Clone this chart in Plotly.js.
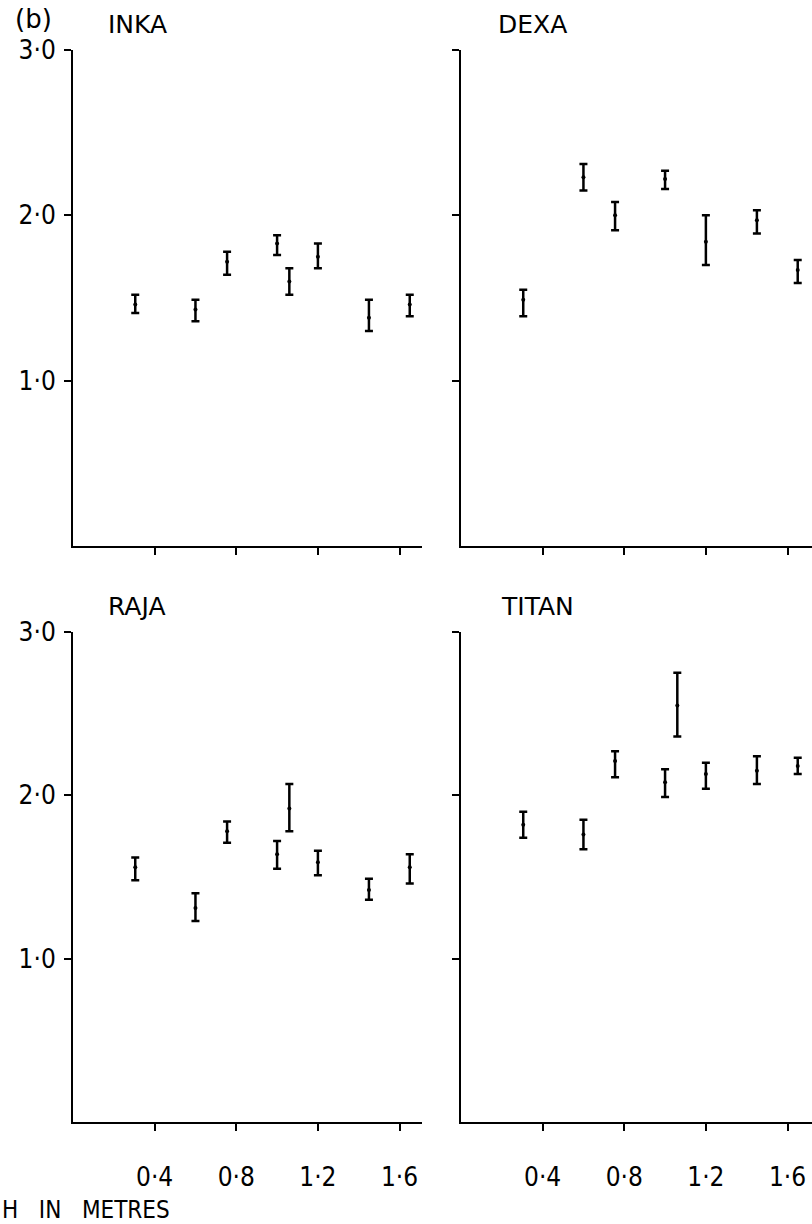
<!DOCTYPE html>
<html>
<head>
<meta charset="utf-8">
<script src="https://cdn.plot.ly/plotly-3.0.1.min.js"></script>
<style>
  html, body { margin: 0; padding: 0; background: #fff; }
  #chart { width: 812px; height: 1224px; }
</style>
</head>
<body>
<div id="chart"></div>
<script>
// Sampling depths (m)
const depth = [0.305, 0.60, 0.755, 1.00, 1.06, 1.20, 1.45, 1.65];

// INKA
const inkaMean = [1.46, 1.43, 1.72, 1.83, 1.60, 1.75, 1.38, 1.46];
const inkaHigh = [1.52, 1.49, 1.78, 1.88, 1.68, 1.83, 1.49, 1.52];
const inkaLow  = [1.41, 1.36, 1.64, 1.76, 1.52, 1.68, 1.30, 1.39];

// DEXA (no value at 1.06 m)
const dexaMean = [1.49, 2.23, 2.00, 2.22, null, 1.84, 1.97, 1.67];
const dexaHigh = [1.55, 2.31, 2.08, 2.27, null, 2.00, 2.03, 1.73];
const dexaLow  = [1.39, 2.15, 1.91, 2.16, null, 1.70, 1.89, 1.59];

// RAJA
const rajaMean = [1.56, 1.31, 1.78, 1.64, 1.92, 1.59, 1.42, 1.56];
const rajaHigh = [1.62, 1.40, 1.84, 1.72, 2.07, 1.66, 1.49, 1.64];
const rajaLow  = [1.48, 1.23, 1.71, 1.55, 1.78, 1.51, 1.36, 1.46];

// TITAN
const titanMean = [1.82, 1.76, 2.21, 2.08, 2.55, 2.13, 2.15, 2.18];
const titanHigh = [1.90, 1.85, 2.27, 2.16, 2.75, 2.20, 2.24, 2.23];
const titanLow  = [1.74, 1.67, 2.11, 1.99, 2.36, 2.04, 2.07, 2.13];

const xTickVals = [0.4, 0.8, 1.2, 1.6];
const xTickText = ['0·4', '0·8', '1·2', '1·6'];
const yTickVals = [1, 2, 3];
const yTickText = ['1·0', '2·0', '3·0'];

const FONT = 'DejaVu Sans Condensed, DejaVu Sans, sans-serif';
const TITLEFONT = 'DejaVu Sans, sans-serif';

function diff(a, b) { return a.map((v, i) => (v === null || b[i] === null) ? null : +(v - b[i]).toFixed(3)); }

function trace(mean, hi, lo, xa, ya) {
  return {
    type: 'scatter', mode: 'markers',
    x: depth, y: mean, xaxis: xa, yaxis: ya,
    marker: { color: '#000', size: 4 },
    error_y: {
      type: 'data', symmetric: false,
      array: diff(hi, mean), arrayminus: diff(mean, lo),
      color: '#000', thickness: 2.5, width: 4
    },
    showlegend: false, hoverinfo: 'skip'
  };
}

const data = [
  trace(inkaMean, inkaHigh, inkaLow, 'x', 'y'),
  trace(dexaMean, dexaHigh, dexaLow, 'x2', 'y2'),
  trace(rajaMean, rajaHigh, rajaLow, 'x3', 'y3'),
  trace(titanMean, titanHigh, titanLow, 'x4', 'y4')
];

const W = 812, H = 1224;
const px = v => v / W;
const py = v => 1 - v / H;

function xax(dom, rng, labels, anchor) {
  return {
    domain: dom, range: rng, anchor: anchor,
    showline: true, linecolor: '#000', linewidth: 2,
    showgrid: false, zeroline: false,
    ticks: 'outside', ticklen: 7, tickwidth: 2, tickcolor: '#000',
    tickmode: 'array', tickvals: xTickVals, ticktext: xTickText,
    showticklabels: labels, ticklabelstandoff: 24,
    tickfont: { family: FONT, size: 26, color: '#000' },
    fixedrange: true
  };
}
function yax(dom, labels, anchor) {
  return {
    domain: dom, range: [0, 3], anchor: anchor,
    showline: true, linecolor: '#000', linewidth: 2,
    showgrid: false, zeroline: false,
    ticks: 'outside', ticklen: 7, tickwidth: 2, tickcolor: '#000',
    tickmode: 'array', tickvals: yTickVals, ticktext: yTickText,
    showticklabels: labels, ticklabelstandoff: 3,
    tickfont: { family: FONT, size: 26, color: '#000' },
    fixedrange: true
  };
}

const topDom = [py(546), py(50)];
const botDom = [py(1122), py(632)];
const leftDom = [px(73), px(422)];
const rightDom = [px(461), 1];

const layout = {
  width: W, height: H,
  margin: { l: 0, r: 0, t: 0, b: 0 },
  paper_bgcolor: '#fff', plot_bgcolor: 'rgba(0,0,0,0)',
  showlegend: false,
  xaxis:  xax(leftDom,  [0, 1.71], false, 'y'),
  yaxis:  yax(topDom, true, 'x'),
  xaxis2: xax(rightDom, [0, 1.72], false, 'y2'),
  yaxis2: yax(topDom, false, 'x2'),
  xaxis3: xax(leftDom,  [0, 1.71], true, 'y3'),
  yaxis3: yax(botDom, true, 'x3'),
  xaxis4: xax(rightDom, [0, 1.72], true, 'y4'),
  yaxis4: yax(botDom, false, 'x4'),
  annotations: [
    { text: '(b)', xref: 'paper', yref: 'paper', x: px(13), y: py(19), xanchor: 'left', yanchor: 'middle',
      showarrow: false, font: { family: TITLEFONT, size: 26, color: '#000' } },
    { text: 'INKA', xref: 'paper', yref: 'paper', x: px(106), y: py(24), xanchor: 'left', yanchor: 'middle',
      showarrow: false, font: { family: TITLEFONT, size: 25, color: '#000' } },
    { text: 'DEXA', xref: 'paper', yref: 'paper', x: px(496), y: py(24), xanchor: 'left', yanchor: 'middle',
      showarrow: false, font: { family: TITLEFONT, size: 25, color: '#000' } },
    { text: 'RAJA', xref: 'paper', yref: 'paper', x: px(106), y: py(606), xanchor: 'left', yanchor: 'middle',
      showarrow: false, font: { family: TITLEFONT, size: 25, color: '#000' } },
    { text: 'TITAN', xref: 'paper', yref: 'paper', x: px(499), y: py(606), xanchor: 'left', yanchor: 'middle',
      showarrow: false, font: { family: TITLEFONT, size: 25, color: '#000' } },
    { text: 'H\u00a0\u00a0\u00a0IN\u00a0\u00a0\u00a0METRES', xref: 'paper', yref: 'paper', x: 0, y: py(1210),
      xanchor: 'left', yanchor: 'middle',
      showarrow: false, font: { family: FONT, size: 24, color: '#000' } }
  ]
};

Plotly.newPlot('chart', data, layout, { staticPlot: true, displayModeBar: false });
</script>
</body>
</html>
